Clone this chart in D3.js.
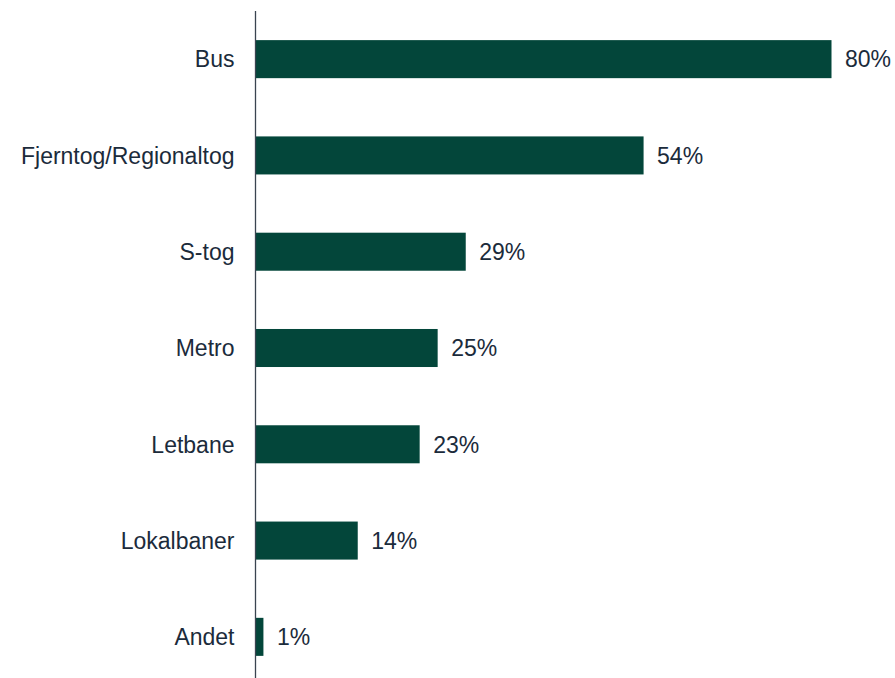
<!DOCTYPE html>
<html><head><meta charset="utf-8">
<script src="https://cdn.jsdelivr.net/npm/d3@7"></script>
<style>html,body{margin:0;padding:0;background:#fff;}</style>
</head><body>
<svg id="chart" width="895" height="678"></svg>
<script>
const categories = ["Bus","Fjerntog/Regionaltog","S-tog","Metro","Letbane","Lokalbaner","Andet"];
const values = [80.0,53.9,29.2,25.3,22.8,14.2,1.1];
const valueLabels = ["80%","54%","29%","25%","23%","14%","1%"];

const svg = d3.select("#chart");
const x0 = 255.5;
const x = d3.scaleLinear().domain([0,80]).range([x0, 831.5]);
const y = d3.scaleBand().domain(categories).range([11,685]).paddingInner(0.605).paddingOuter(0.3025);
const textColor = "#1b2b3b";
const font = "'Liberation Sans', Arial, sans-serif";
const fs = "23px";

const data = categories.map((c,i)=>({c, v: values[i], l: valueLabels[i]}));

svg.selectAll("rect.bar").data(data).enter().append("rect")
  .attr("class","bar")
  .attr("x", x(0))
  .attr("y", d=>y(d.c))
  .attr("width", d=>x(d.v)-x(0))
  .attr("height", y.bandwidth())
  .attr("fill", "#03463a");

svg.append("line").attr("x1",x0).attr("x2",x0).attr("y1",11).attr("y2",685)
  .attr("stroke","#3a4450").attr("stroke-width",1.3);

svg.selectAll("text.cat").data(data).enter().append("text")
  .attr("class","cat")
  .attr("x", x0-21)
  .attr("y", d=>y(d.c)+y.bandwidth()/2)
  .attr("dy","0.36em")
  .attr("text-anchor","end")
  .attr("font-family", font).attr("font-size",fs).attr("fill",textColor)
  .text(d=>d.c);

svg.selectAll("text.val").data(data).enter().append("text")
  .attr("class","val")
  .attr("x", d=>x(d.v)+13.5)
  .attr("y", d=>y(d.c)+y.bandwidth()/2)
  .attr("dy","0.36em")
  .attr("text-anchor","start")
  .attr("font-family", font).attr("font-size",fs).attr("fill",textColor)
  .text(d=>d.l);
</script>
</body></html>
